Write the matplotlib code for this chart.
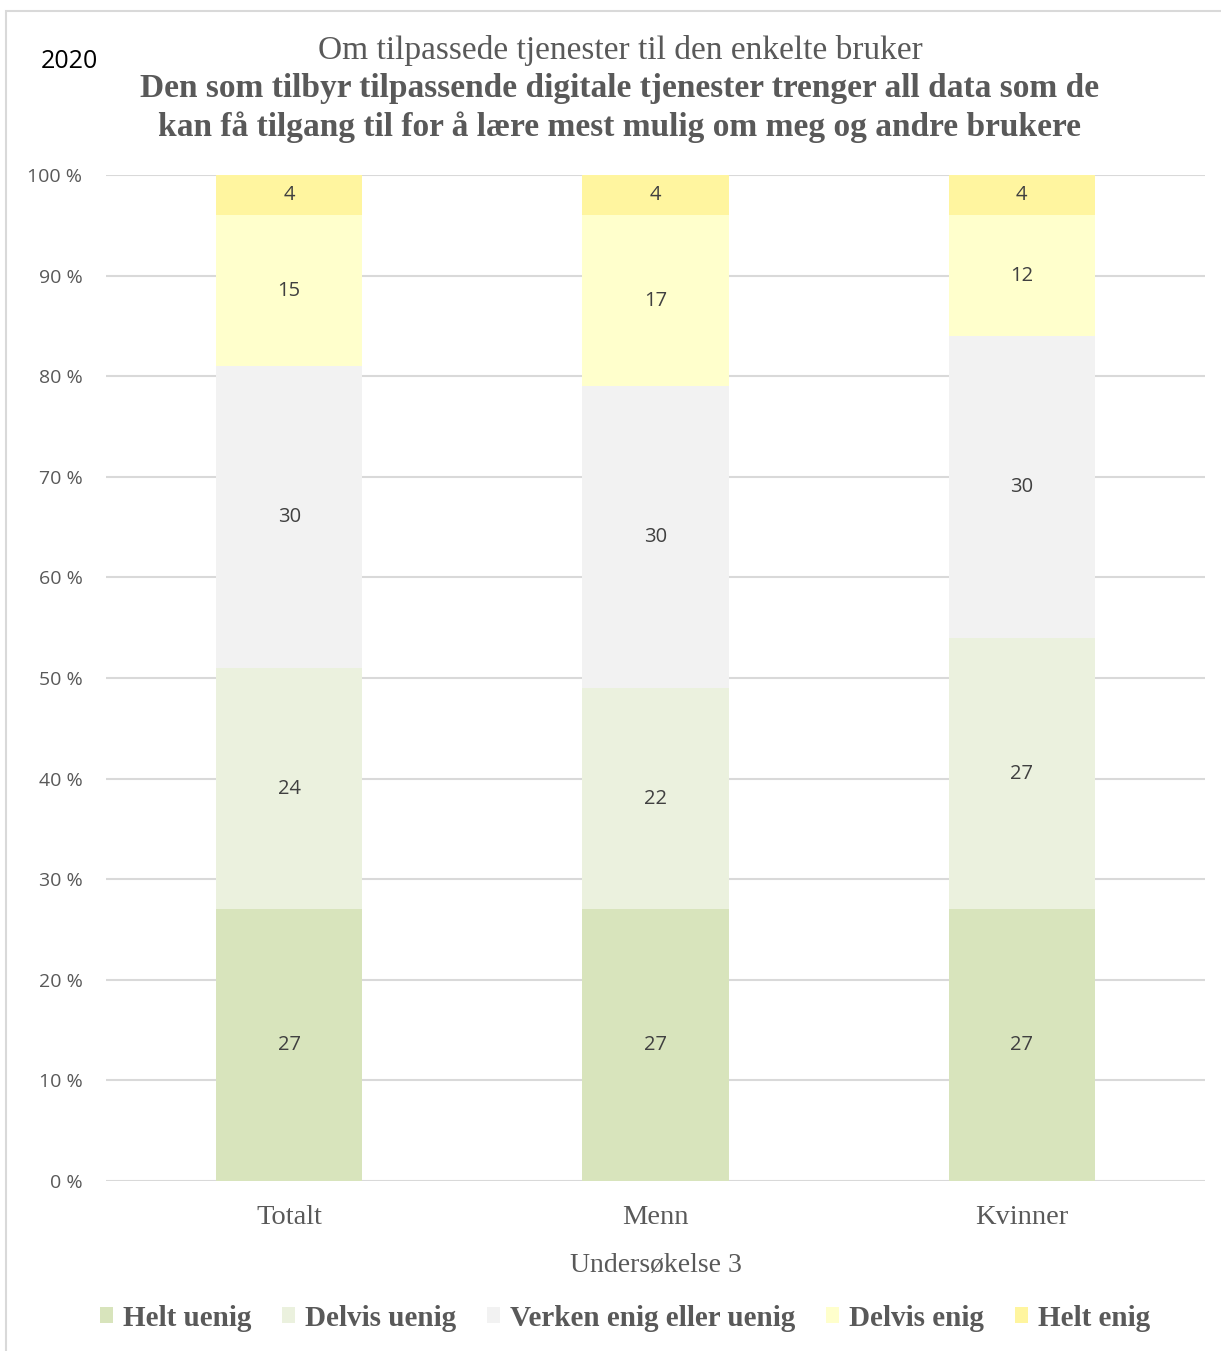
import matplotlib
matplotlib.use("Agg")
import matplotlib.pyplot as plt
from matplotlib.patches import Patch, Rectangle

categories = ["Totalt", "Menn", "Kvinner"]
series_names = ["Helt uenig", "Delvis uenig", "Verken enig eller uenig", "Delvis enig", "Helt enig"]
helt_uenig = [27, 27, 27]
delvis_uenig = [24, 22, 27]
verken = [30, 30, 30]
delvis_enig = [15, 17, 12]
helt_enig = [4, 4, 4]
series_values = [helt_uenig, delvis_uenig, verken, delvis_enig, helt_enig]
colors = ["#d8e4bc", "#ebf1de", "#f2f2f2", "#ffffcc", "#fff59f"]
yticks = [0, 10, 20, 30, 40, 50, 60, 70, 80, 90, 100]

serif = "Liberation Serif"
sans = "Open Sans"
text_grey = "#595959"

fig = plt.figure(figsize=(12.21, 13.51), dpi=100)
# thin grey chart frame, cut off at the right and bottom edge
fig.patches.append(Rectangle((6 / 1221, -0.1), 1.2, 1 - 11 / 1351 + 0.1,
                             transform=fig.transFigure, fill=False,
                             edgecolor="#d9d9d9", linewidth=1.5))

ax = fig.add_axes([106 / 1221, 1 - 1181 / 1351, 1099 / 1221, 1006 / 1351])

x = list(range(len(categories)))
bottom = [0] * len(categories)
for name, vals, col in zip(series_names, series_values, colors):
    ax.bar(x, vals, width=0.4, bottom=bottom, color=col, label=name, zorder=2)
    for xi, b, v in zip(x, bottom, vals):
        ax.text(xi, b + v / 2, str(v), ha="center", va="center",
                fontsize=14.5, color="#404040", family=sans, zorder=3)
    bottom = [b + v for b, v in zip(bottom, vals)]

ax.set_xlim(-0.5, 2.5)
ax.set_ylim(0, 100)
ax.set_yticks(yticks)
ax.set_yticklabels([f"{t} %" for t in yticks], fontsize=14, color=text_grey, family=sans)
ax.set_xticks(x)
ax.set_xticklabels(categories, fontsize=20.5, color=text_grey, family=serif)
ax.tick_params(axis="both", length=0)
ax.tick_params(axis="y", pad=17)
ax.tick_params(axis="x", pad=17)
ax.grid(axis="y", color="#d9d9d9", linewidth=1.5, zorder=0)
for s in ax.spines.values():
    s.set_visible(False)
ax.set_axisbelow(True)

ax.set_xlabel("Undersøkelse 3", fontsize=20, color=text_grey, family=serif, labelpad=17)

fig.text(620 / 1221, 1 - 51 / 1351, "Om tilpassede tjenester til den enkelte bruker",
         ha="center", va="center", fontsize=24, color=text_grey, family=serif)
fig.text(620 / 1221, 1 - 108 / 1351,
         "Den som tilbyr tilpassende digitale tjenester trenger all data som de\n"
         "kan få tilgang til for å lære mest mulig om meg og andre brukere",
         ha="center", va="center", fontsize=24, color=text_grey, family=serif,
         fontweight="bold", linespacing=1.26)
fig.text(41 / 1221, 1 - 62 / 1351, "2020", ha="left", va="center",
         fontsize=18, color="black", family=sans)

handles = [Patch(facecolor=c, edgecolor="none") for c in colors]
fig.legend(handles, series_names, loc="center", bbox_to_anchor=(625 / 1221, 1 - 1318 / 1351),
           ncol=5, frameon=False, handlelength=0.45, handleheight=0.45,
           handletextpad=0.35, columnspacing=1.05,
           prop={"family": serif, "weight": "bold", "size": 21},
           labelcolor=text_grey)

fig.savefig("out.png", dpi=100)
